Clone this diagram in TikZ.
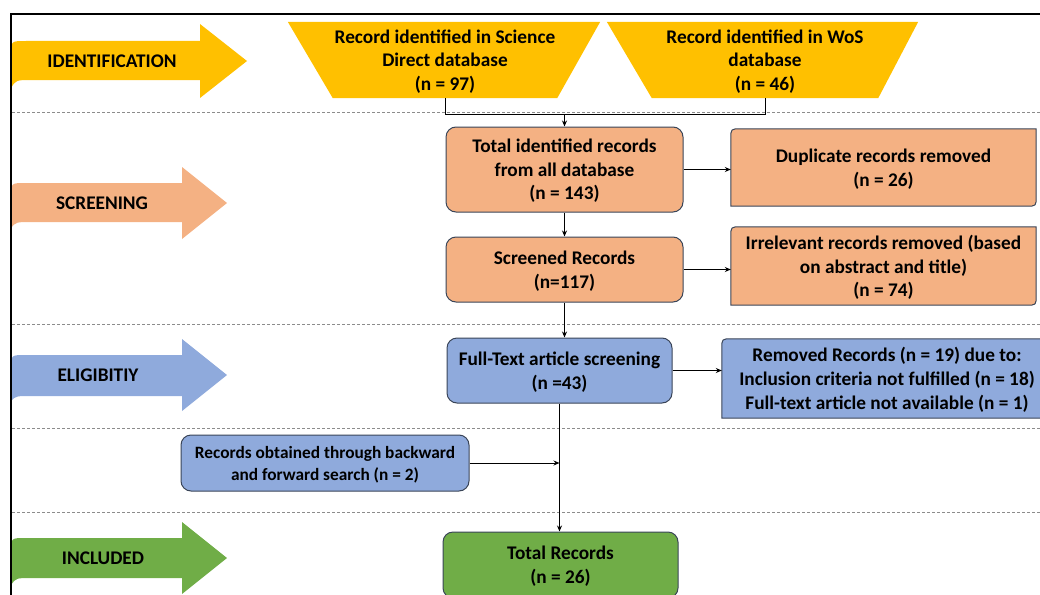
\documentclass[tikz,border=0pt]{standalone}
\usepackage{fontspec}
\setmainfont{Carlito}
\usetikzlibrary{arrows.meta,backgrounds,calc}
\definecolor{cyel}{HTML}{FFC000}
\definecolor{corg}{HTML}{F4B183}
\definecolor{cblu}{HTML}{8FAADC}
\definecolor{cgrn}{HTML}{70AD47}
\definecolor{cbrd}{HTML}{3A4558}
\definecolor{cdash}{HTML}{8C8C8C}
\tikzset{
  txt/.style={font=\bfseries\fontsize{19.3}{23.7}\selectfont, align=center, inner sep=0pt, text depth=-1.5pt},
  phase/.style={font=\bfseries\fontsize{19.3}{22}\selectfont, inner sep=0pt},
  lbox/.style={txt, draw=cbrd, line width=1pt, rounded corners=10pt},
  rbox/.style={txt},
  diagfill/.style={draw=cbrd, line width=1pt},
  conn/.style={line width=1pt, black},
  arr/.style={conn, -{Stealth[length=6pt,width=5pt]}},
  sep/.style={cdash, line width=0.9pt, dash pattern=on 3pt off 2pt},
  frame/.style={black, line width=2.2pt},
}
\newcommand{\diagbox}[2]{%
  \path[diagfill, fill=#2] (#1.south west) -- ([yshift=-10pt]#1.north west)
    .. controls (#1.north west) .. ([xshift=10pt]#1.north west)
    -- (#1.north east) -- ([yshift=10pt]#1.south east)
    .. controls (#1.south east) .. ([xshift=-10pt]#1.south east) -- cycle;}
\begin{document}
\begin{tikzpicture}[x=1pt,y=-1pt]
\useasboundingbox (0,0) rectangle (1040,594);
\clip (0,0) rectangle (1040,594);

% dashed separators
\foreach \yy in {112,324,428,512} \draw[sep] (12,\yy) -- (1040,\yy);

% phase arrows
\fill[cyel] (11,88) -- (11,54) .. controls (11,41) .. (26,41) -- (200,41) -- (200,24) -- (247,61) -- (200,98) -- (200,80) -- (32,80) .. controls (16,80) .. (11,88) -- cycle;
\node[phase] (pid) at (112,61) {IDENTIFICATION};
\fill[corg] (11,228) -- (11,196) .. controls (11,183) .. (26,183) -- (182,183) -- (182,167) -- (227,203) -- (182,239) -- (182,222) -- (32,222) .. controls (16,222) .. (11,228) -- cycle;
\node[phase] (psc) at (102,203) {SCREENING};
\fill[cblu] (11,401) -- (11,368) .. controls (11,355) .. (26,355) -- (182,355) -- (182,339) -- (227,375) -- (182,411) -- (182,396) -- (32,396) .. controls (16,396) .. (11,401) -- cycle;
\node[phase] (pel) at (98,375) {ELIGIBITIY};
\fill[cgrn] (11,585) -- (11,551) .. controls (11,538) .. (26,538) -- (182,538) -- (182,522) -- (227,558) -- (182,594) -- (182,578) -- (32,578) .. controls (16,578) .. (11,585) -- cycle;
\node[phase] (pin) at (103,558) {INCLUDED};

% frame
\draw[frame] (11,600) -- (11,14) -- (1045,14);

% identification trapezoids
\node[txt, minimum width=224pt, minimum height=76pt] (sd) at (445,60)
  {Record identified in Science\\Direct database\\(n = 97)};
\node[txt, minimum width=226pt, minimum height=76pt] (wos) at (765,60)
  {Record identified in WoS\\database\\(n = 46)};
\begin{scope}[on background layer]
  \fill[cyel] ([xshift=-45pt]sd.north west) -- ([xshift=43pt]sd.north east) -- (sd.south east) -- (sd.south west) -- cycle;
  \fill[cyel] ([xshift=-45pt]wos.north west) -- ([xshift=40pt]wos.north east) -- (wos.south east) -- (wos.south west) -- cycle;
\end{scope}

% boxes
\node[lbox, fill=corg, minimum width=237pt, minimum height=85pt] (tot) at (564.5,169.5)
  {Total identified records\\from all database\\(n = 143)};
\node[rbox, minimum width=305pt, minimum height=77pt] (dup) at (883.5,167.5)
  {Duplicate records removed\\(n = 26)};
\node[lbox, fill=corg, minimum width=237pt, minimum height=65pt] (scr) at (564.5,269.5)
  {Screened Records\\(n=117)};
\node[rbox, minimum width=305pt, minimum height=78pt] (irr) at (883.5,266)
  {Irrelevant records removed (based\\on abstract and title)\\(n = 74)};
\node[lbox, fill=cblu, minimum width=225pt, minimum height=65pt] (ft) at (559.5,370.5)
  {Full-Text article screening\\(n =43)};
\node[rbox, minimum width=330pt, minimum height=79pt] (rem) at (887,378.5)
  {Removed Records (n = 19) due to:\\Inclusion criteria not fulfilled (n = 18)\\Full-text article not available (n = 1)};
\node[lbox, fill=cblu, minimum width=288pt, minimum height=56pt, font=\bfseries\fontsize{17.3}{22}\selectfont] (bw) at (325,463)
  {Records obtained through backward\\and forward search (n = 2)};
\node[lbox, fill=cgrn, minimum width=235pt, minimum height=66pt] (tr) at (560.5,565)
  {Total Records\\(n = 26)};
\begin{scope}[on background layer]
  \diagbox{dup}{corg}
  \diagbox{irr}{corg}
  \diagbox{rem}{cblu}
\end{scope}

% connectors
\draw[conn] (sd.south) -- ++(0,16) coordinate (jl) -| (wos.south);
\coordinate (jm) at (tot.north |- jl);
\draw[arr] (jm) -- (tot.north);
\draw[arr] (tot.east) -- (tot.east -| dup.west);
\draw[arr] (tot.south) -- (scr.north);
\draw[arr] (scr.east) -- (scr.east -| irr.west);
\draw[arr] (scr.south) -- (scr.south |- ft.north);
\draw[arr] (ft.east) -- (ft.east -| rem.west);
\draw[arr] (ft.south) -- (ft.south |- tr.north);
\draw[arr] (bw.east) -- (bw.east -| ft.south);
\end{tikzpicture}
\end{document}
